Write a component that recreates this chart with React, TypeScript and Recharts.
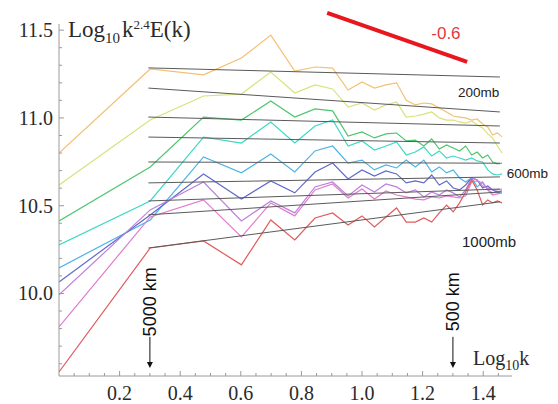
import React from "react";
import { LineChart, Line, XAxis, YAxis, ReferenceLine, ReferenceDot } from "recharts";

// log10 of wavenumber k = 1..29
const logK = [0, 0.301, 0.477, 0.602, 0.699, 0.778, 0.845, 0.903, 0.954, 1.0, 1.041, 1.079, 1.114, 1.146, 1.176, 1.204, 1.23, 1.255, 1.279, 1.301, 1.322, 1.342, 1.362, 1.38, 1.398, 1.415, 1.431, 1.447, 1.462];

const orangeVals = [10.8, 11.279, 11.245, 11.341, 11.472, 11.267, 11.29, 11.284, 11.159, 11.205, 11.17, 11.188, 11.2, 11.1, 11.074, 11.085, 11.08, 11.057, 11.034, 11.011, 11.005, 11.0, 10.988, 10.994, 10.966, 10.948, 10.903, 10.915, 10.892];
const yellowVals = [10.618, 10.988, 11.125, 11.136, 11.262, 11.142, 11.188, 11.165, 11.062, 11.085, 11.045, 11.074, 11.091, 11.005, 11.011, 11.022, 11.034, 11.0, 10.988, 10.988, 10.977, 10.971, 10.983, 10.96, 10.943, 10.909, 10.886, 10.84, 10.8];
const greenVals = [10.413, 10.721, 11.005, 10.988, 11.096, 11.005, 11.051, 11.04, 10.897, 10.92, 10.886, 10.909, 10.914, 10.869, 10.874, 10.84, 10.88, 10.823, 10.846, 10.829, 10.812, 10.84, 10.789, 10.806, 10.772, 10.789, 10.749, 10.738, 10.743];
const cyanVals = [10.277, 10.527, 10.891, 10.857, 10.977, 10.857, 10.954, 10.988, 10.84, 10.869, 10.817, 10.84, 10.863, 10.789, 10.806, 10.835, 10.783, 10.812, 10.772, 10.783, 10.772, 10.76, 10.772, 10.755, 10.749, 10.704, 10.681, 10.675, 10.681];
const skyVals = [10.146, 10.419, 10.778, 10.687, 10.795, 10.692, 10.812, 10.84, 10.743, 10.76, 10.704, 10.732, 10.715, 10.76, 10.721, 10.76, 10.692, 10.721, 10.687, 10.704, 10.658, 10.635, 10.658, 10.607, 10.635, 10.59, 10.573, 10.578, 10.573];
const blueVals = [10.066, 10.447, 10.681, 10.538, 10.641, 10.573, 10.692, 10.743, 10.652, 10.704, 10.669, 10.698, 10.681, 10.63, 10.641, 10.63, 10.675, 10.618, 10.641, 10.601, 10.59, 10.618, 10.658, 10.647, 10.601, 10.612, 10.59, 10.578, 10.584];
const purpleVals = [9.992, 10.476, 10.635, 10.413, 10.527, 10.459, 10.607, 10.635, 10.556, 10.618, 10.578, 10.624, 10.607, 10.573, 10.59, 10.55, 10.578, 10.561, 10.59, 10.573, 10.55, 10.59, 10.658, 10.647, 10.612, 10.601, 10.59, 10.59, 10.595];
const pinkVals = [9.81, 10.436, 10.533, 10.322, 10.516, 10.442, 10.59, 10.624, 10.544, 10.595, 10.538, 10.584, 10.561, 10.55, 10.538, 10.533, 10.55, 10.544, 10.556, 10.55, 10.544, 10.556, 10.635, 10.641, 10.63, 10.59, 10.561, 10.567, 10.573];
const redVals = [9.553, 10.259, 10.299, 10.163, 10.419, 10.305, 10.43, 10.459, 10.39, 10.442, 10.379, 10.436, 10.487, 10.407, 10.407, 10.43, 10.407, 10.459, 10.504, 10.465, 10.516, 10.578, 10.647, 10.59, 10.504, 10.533, 10.516, 10.527, 10.516];

const seriesValues = [orangeVals, yellowVals, greenVals, cyanVals, skyVals, blueVals, purpleVals, pinkVals, redVals];
const seriesColors = ["#f3c173", "#d9e27c", "#4cc66c", "#3fd9c3", "#4cb4e4", "#6169cc", "#bd80dc", "#e27acd", "#e25a5c"];

// straight-line fits (start and end)
const fitX = [0.295, 1.455];
const fitStart = [11.285, 11.17, 11.005, 10.891, 10.749, 10.63, 10.527, 10.448, 10.259];
const fitEnd = [11.233, 11.034, 10.954, 10.857, 10.742, 10.664, 10.595, 10.578, 10.522];

const xMajor = [0.2, 0.4, 0.6, 0.8, 1.0, 1.2, 1.4];
const xTicks = [0.05, 0.1, 0.15, 0.2, 0.25, 0.3, 0.35, 0.4, 0.45, 0.5, 0.55, 0.6, 0.65, 0.7, 0.75, 0.8, 0.85, 0.9, 0.95, 1.0, 1.05, 1.1, 1.15, 1.2, 1.25, 1.3, 1.35, 1.4, 1.45];
const yMajor = [10.0, 10.5, 11.0, 11.5];
const yTicks = [9.6, 9.7, 9.8, 9.9, 10.0, 10.1, 10.2, 10.3, 10.4, 10.5, 10.6, 10.7, 10.8, 10.9, 11.0, 11.1, 11.2, 11.3, 11.4, 11.5];

const pressureLabels = [
  { text: "200mb", x: 1.317, y: 11.148, size: 13.5 },
  { text: "600mb", x: 1.478, y: 10.686, size: 13.5 },
  { text: "1000mb", x: 1.33, y: 10.294, size: 15 },
];

const scaleMarks = [
  { text: "5000 km", x: 0.3 },
  { text: "500 km", x: 1.3 },
];

const slopeSeg = [
  { x: 0.885, y: 11.598 },
  { x: 1.347, y: 11.319 },
];

const serif = "'Liberation Serif', 'Times New Roman', serif";
const sans = "'Liberation Sans', Arial, sans-serif";
const axisColor = "#9a9a9a";

const isIn = (arr: number[], v: number) => arr.some((m) => Math.abs(m - v) < 1e-6);

const XTick = (props: any) => {
  const { x, y, payload } = props;
  const major = isIn(xMajor, payload.value);
  return (
    <g>
      <line x1={x} x2={x} y1={y} y2={y - (major ? 5 : 3)} stroke={axisColor} strokeWidth={1} />
      {major && (
        <text x={x} y={y + 24} textAnchor="middle" fontFamily={serif} fontSize={20} fill="#2a2a2a">
          {payload.value.toFixed(1)}
        </text>
      )}
    </g>
  );
};

const YTick = (props: any) => {
  const { x, y, payload } = props;
  const major = isIn(yMajor, payload.value);
  return (
    <g>
      <line x1={x} x2={x + (major ? 5 : 3)} y1={y} y2={y} stroke={axisColor} strokeWidth={1} />
      {major && (
        <text x={x - 6} y={y} dy="0.35em" textAnchor="end" fontFamily={serif} fontSize={20} fill="#2a2a2a">
          {payload.value.toFixed(1)}
        </text>
      )}
    </g>
  );
};

const YTitle = (props: any) => {
  const vb = props.viewBox || { x: 0, y: 16, width: 51 };
  const x = vb.x + vb.width + 9;
  const y = vb.y + 13;
  return (
    <text x={x} y={y} fontFamily={serif} fontSize={23} fill="#2a2a2a">
      Log
      <tspan fontSize={15} dy={6}>10</tspan>
      <tspan fontSize={23} dy={-6} dx={2}>k</tspan>
      <tspan fontSize={13} dy={-8}>2.4</tspan>
      <tspan fontSize={23} dy={8}>E(k)</tspan>
    </text>
  );
};

const XTitle = (props: any) => {
  const vb = props.viewBox || { x: 51, y: 368, width: 453 };
  const x = vb.x + 414;
  const y = vb.y - 11;
  return (
    <text x={x} y={y} fontFamily={serif} fontSize={20} fill="#2a2a2a">
      Log
      <tspan fontSize={14} dy={5}>10</tspan>
      <tspan fontSize={20} dy={-5}>k</tspan>
    </text>
  );
};

const ArrowShape = (text: string) => (props: any) => {
  const { x1, y1, y2 } = props;
  const textCenter = y1 - 35;
  return (
    <g>
      <line x1={x1} x2={x1} y1={y1} y2={y2 - 5} stroke="#111" strokeWidth={1} />
      <path d={`M ${x1 - 3} ${y2 - 6} L ${x1 + 3} ${y2 - 6} L ${x1} ${y2} Z`} fill="#111" />
      <text
        x={x1 + 6.5}
        y={textCenter}
        transform={`rotate(-90 ${x1 + 6.5} ${textCenter})`}
        textAnchor="middle"
        fontFamily={sans}
        fontSize={18}
        fill="#111"
      >
        {text}
      </text>
    </g>
  );
};

export default function App() {
  return (
    <div style={{ width: 550, height: 396 }}>
      <LineChart width={550} height={396} margin={{ top: 16, right: 46, bottom: 0, left: 0 }}>
        <XAxis
          dataKey="x"
          type="number"
          domain={[0, 1.495]}
          allowDataOverflow
          ticks={xTicks}
          interval={0}
          tick={<XTick />}
          tickSize={0}
          tickMargin={0}
          tickLine={false}
          axisLine={{ stroke: axisColor, strokeWidth: 1 }}
          height={28}
          label={{ content: (p: any) => <XTitle {...p} /> }}
        />
        <YAxis
          type="number"
          domain={[9.53, 11.535]}
          allowDataOverflow
          ticks={yTicks}
          interval={0}
          tick={<YTick />}
          tickSize={0}
          tickMargin={0}
          tickLine={false}
          axisLine={{ stroke: axisColor, strokeWidth: 1 }}
          width={51}
          label={{ content: (p: any) => <YTitle {...p} /> }}
        />
        {seriesValues.map((vals, i) => (
          <Line
            key={"s" + i}
            data={logK.map((x, j) => ({ x, v: vals[j] }))}
            dataKey="v"
            stroke={seriesColors[i]}
            strokeWidth={1.2}
            dot={false}
            isAnimationActive={false}
          />
        ))}
        {fitStart.map((s, i) => (
          <Line
            key={"f" + i}
            data={[
              { x: fitX[0], v: s },
              { x: fitX[1], v: fitEnd[i] },
            ]}
            dataKey="v"
            stroke="#5a5a5a"
            strokeWidth={1}
            dot={false}
            isAnimationActive={false}
          />
        ))}
        <ReferenceLine
          segment={slopeSeg}
          ifOverflow="visible"
          stroke="#e8171d"
          strokeWidth={4}
        />
        <ReferenceDot
          x={1.277}
          y={11.484}
          r={0}
          ifOverflow="visible"
          shape={(p: any) => (
            <text x={p.cx} y={p.cy} dy="0.35em" textAnchor="middle" fontFamily={sans} fontSize={17} fill="#e5383b">
              -0.6
            </text>
          )}
        />
        {pressureLabels.map((l) => (
          <ReferenceDot
            key={l.text}
            x={l.x}
            y={l.y}
            r={0}
            ifOverflow="visible"
            shape={(p: any) => (
              <text x={p.cx} y={p.cy} dy="0.35em" textAnchor="start" fontFamily={sans} fontSize={l.size} fill="#222">
                {l.text}
              </text>
            )}
          />
        ))}
        {scaleMarks.map((m) => (
          <ReferenceLine
            key={m.text}
            segment={[
              { x: m.x, y: 9.753 },
              { x: m.x, y: 9.575 },
            ]}
            ifOverflow="visible"
            shape={ArrowShape(m.text)}
          />
        ))}
      </LineChart>
    </div>
  );
}
